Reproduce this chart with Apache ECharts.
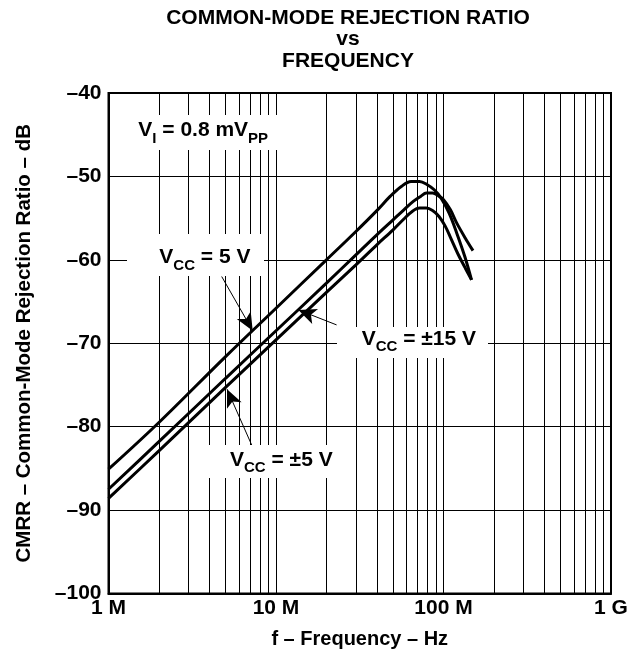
<!DOCTYPE html>
<html>
<head>
<meta charset="utf-8">
<script src="https://cdn.jsdelivr.net/npm/echarts@6/dist/echarts.min.js"></script>
<style>
html,body{margin:0;padding:0;background:#fff;}
#chart{width:637px;height:660px;}
</style>
</head>
<body>
<div id="chart"></div>
<script>
// ---------- data ----------
const xTickExponents = [6, 7, 8, 9];
const xTickLabels = ['1 M', '10 M', '100 M', '1 G'];
const yTickValues = [-100, -90, -80, -70, -60, -50, -40];
const yTickLabels = ['\u2013100', '\u201390', '\u201380', '\u201370', '\u201360', '\u201350', '\u201340'];
const minorFreqs = [2e6,3e6,4e6,5e6,6e6,7e6,8e6,9e6, 2e7,3e7,4e7,5e7,6e7,7e7,8e7,9e7, 2e8,3e8,4e8,5e8,6e8,7e8,8e8,9e8];

// V_CC = 5 V
const freq5V = [1e6, 2e6, 5e6, 10e6, 20e6, 30e6, 40e6, 48e6, 56e6, 64e6, 72e6, 80e6, 88e6, 96e6, 108e6, 120e6, 134e6, 147e6];
const cmrr5V = [-85.1, -79.5, -71.6, -65.8, -60.0, -56.6, -54.1, -52.4, -51.2, -50.6, -50.6, -51.0, -51.6, -52.5, -54.4, -56.8, -59.6, -62.4];
// V_CC = ±15 V
const freq15V = [1e6, 2e6, 5e6, 10e6, 20e6, 30e6, 40e6, 50e6, 58e6, 66e6, 73e6, 79e6, 86e6, 93e6, 100e6, 110e6, 120e6, 135e6, 150e6];
const cmrr15V = [-87.5, -81.8, -74.2, -68.5, -62.8, -59.4, -57.0, -55.2, -54.0, -53.0, -52.4, -52.0, -52.0, -52.3, -52.8, -54.0, -55.6, -57.4, -58.9];
// V_CC = ±5 V
const freqPM5V = [1e6, 2e6, 5e6, 10e6, 20e6, 30e6, 40e6, 50e6, 58e6, 65e6, 72e6, 79e6, 86e6, 94e6, 102e6, 110e6, 122e6, 135e6, 147e6];
const cmrrPM5V = [-88.6, -82.9, -75.3, -69.6, -63.9, -60.6, -58.2, -56.4, -55.1, -54.2, -53.8, -53.8, -54.1, -54.8, -55.9, -57.3, -59.3, -61.0, -62.4];

// annotation arrows (data coordinates: [from], [to])
const arrow5V = [[4.74e6, -62.0], [7.26e6, -68.5]];
const arrow15V = [[23.0e6, -67.8], [13.6e6, -66.0]];
const arrowPM5V = [[7.16e6, -82.2], [5.1e6, -75.5]];

// ---------- chart ----------
const FF = '"Liberation Sans", Arial, Helvetica, sans-serif';
const zip = (xs, ys) => xs.map((x, i) => [x, ys[i]]);

function arrowLine(a) {
  return [
    { coord: a[0], symbol: 'none' },
    { coord: a[1], symbol: 'arrow', symbolSize: [12, 18] }
  ];
}

const curveStyle = { color: '#000', width: 3 };

const rich = {
  m: { fontSize: 21, fontWeight: 'bold', fontFamily: FF, fill: '#000', lineHeight: 26 },
  s: { fontSize: 15, fontWeight: 'bold', fontFamily: FF, fill: '#000', lineHeight: 26, padding: [16, 0, 0, 0] }
};

function box(x, y, w, h) {
  return { type: 'rect', silent: true, z: 10, shape: { x: x, y: y, width: w, height: h }, style: { fill: '#fff' } };
}
function label(x, y, text) {
  return { type: 'text', silent: true, z: 11, x: x, y: y,
    style: { text: text, rich: rich, align: 'left', verticalAlign: 'middle' } };
}

const chart = echarts.init(document.getElementById('chart'), null, { renderer: 'canvas' });
chart.setOption({
  animation: false,
  backgroundColor: '#fff',
  grid: { left: 108.5, top: 93, right: 26, bottom: 66.5, show: true, borderColor: '#000', borderWidth: 2, containLabel: false },
  xAxis: {
    type: 'log', logBase: 10, min: 1e6, max: 1e9, splitNumber: 3,
    axisLine: { show: true, onZero: false, lineStyle: { color: '#000', width: 2 } },
    axisTick: { show: false },
    splitLine: { show: true, lineStyle: { color: '#000', width: 1 } },
    axisLabel: {
      margin: 4, color: '#000', fontSize: 21, fontWeight: 'bold', fontFamily: FF,
      formatter: function (v) {
        const i = xTickExponents.indexOf(Math.round(Math.log10(v)));
        return i >= 0 ? xTickLabels[i] : '';
      }
    },
    name: 'f \u2013 Frequency \u2013 Hz', nameLocation: 'middle', nameGap: 36,
    nameTextStyle: { color: '#000', fontSize: 20, fontWeight: 'bold', fontFamily: FF }
  },
  yAxis: {
    type: 'value', min: -100, max: -40, interval: 10,
    axisLine: { show: true, onZero: false, lineStyle: { color: '#000', width: 2 } },
    axisTick: { show: false },
    splitLine: { show: true, lineStyle: { color: '#000', width: 1 } },
    axisLabel: {
      margin: 7, color: '#000', fontSize: 21, fontWeight: 'bold', fontFamily: FF,
      formatter: function (v) {
        const i = yTickValues.indexOf(Math.round(v));
        return i >= 0 ? yTickLabels[i] : '';
      }
    },
    name: 'CMRR \u2013 Common-Mode Rejection Ratio \u2013 dB', nameLocation: 'middle', nameGap: 74,
    nameTextStyle: { color: '#000', fontSize: 20.5, fontWeight: 'bold', fontFamily: FF }
  },
  series: [
    {
      name: 'VCC = 5 V', type: 'line', data: zip(freq5V, cmrr5V), smooth: 0.35, symbol: 'none',
      lineStyle: curveStyle, z: 3,
      markLine: {
        silent: true, symbol: 'none', label: { show: false },
        lineStyle: { color: '#000', width: 1, type: 'solid' },
        data: minorFreqs.map(f => ({ xAxis: f }))
          .concat([arrowLine(arrow5V)])
      }
    },
    {
      name: 'VCC = ±15 V', type: 'line', data: zip(freq15V, cmrr15V), smooth: 0.35, symbol: 'none',
      lineStyle: curveStyle, z: 3,
      markLine: {
        silent: true, label: { show: false },
        lineStyle: { color: '#000', width: 1, type: 'solid' },
        data: [arrowLine(arrow15V)]
      }
    },
    {
      name: 'VCC = ±5 V', type: 'line', data: zip(freqPM5V, cmrrPM5V), smooth: 0.35, symbol: 'none',
      lineStyle: curveStyle, z: 3,
      markLine: {
        silent: true, label: { show: false },
        lineStyle: { color: '#000', width: 1, type: 'solid' },
        data: [arrowLine(arrowPM5V)]
      }
    }
  ],
  graphic: [
    { type: 'text', silent: true, x: 348, y: 7,
      style: { text: 'COMMON-MODE REJECTION RATIO\nvs\nFREQUENCY', align: 'center', verticalAlign: 'top',
        fontSize: 21, fontWeight: 'bold', fontFamily: FF, fill: '#000', lineHeight: 21.5 } },
    box(128, 115, 157, 35),
    label(138.3, 130.5, '{m|V}{s|I}{m| = 0.8 mV}{s|PP}'),
    box(127, 234, 137, 42),
    label(159.3, 257.5, '{m|V}{s|CC}{m| = 5 V}'),
    box(337, 327, 151, 31),
    label(361.7, 339, '{m|V}{s|CC}{m| = \u00b115 V}'),
    box(203, 445, 137, 33),
    label(230, 460, '{m|V}{s|CC}{m| = \u00b15 V}')
  ]
});
</script>
</body>
</html>
